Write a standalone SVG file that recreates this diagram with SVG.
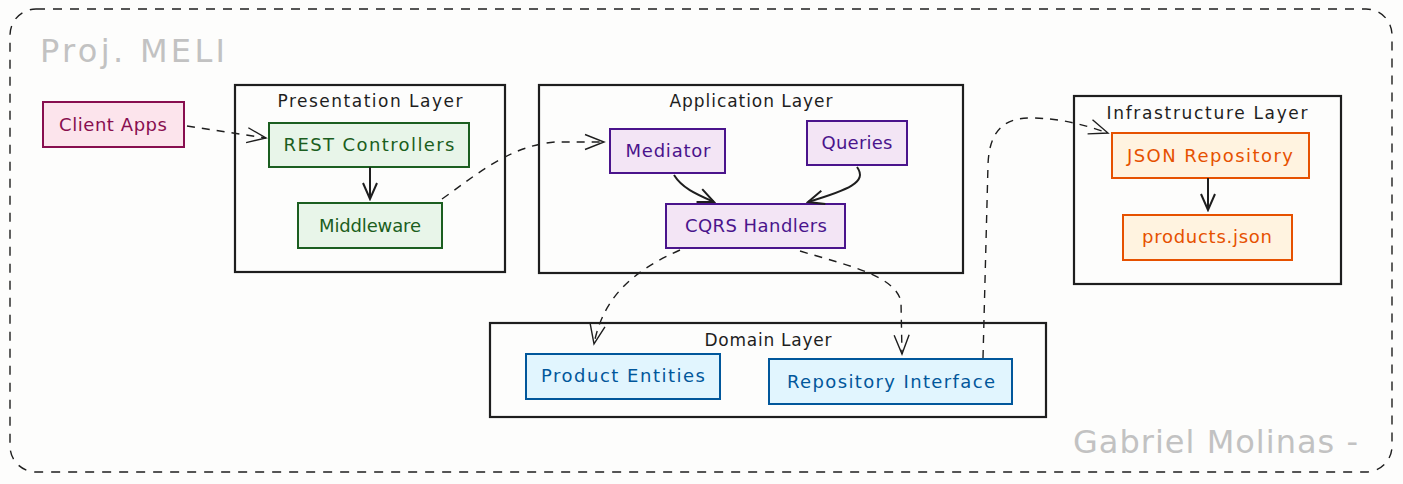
<svg xmlns="http://www.w3.org/2000/svg" width="1403" height="484" viewBox="0 0 1403 484">
<style>
text{font-family:"DejaVu Sans","Liberation Sans",sans-serif;}
.layer{fill:none;stroke:#1e1e1e;stroke-width:2.2;}
.ltitle{font-size:17px;fill:#1e1e1e;text-anchor:middle;}
.lbl{font-size:18px;text-anchor:middle;}
.pink rect{fill:#fce4ec;stroke:#880e4f;stroke-width:2;}
.pink text{fill:#880e4f;}
.green rect{fill:#e8f5e9;stroke:#1b5e20;stroke-width:2;}
.green text{fill:#1b5e20;}
.purple rect{fill:#f3e5f5;stroke:#4a148c;stroke-width:2;}
.purple text{fill:#4a148c;}
.orange rect{fill:#fff3e0;stroke:#e65100;stroke-width:2;}
.orange text{fill:#e65100;}
.blue rect{fill:#e1f5fe;stroke:#01579b;stroke-width:2;}
.blue text{fill:#01579b;}
.dash{fill:none;stroke:#1e1e1e;stroke-width:1.4;stroke-dasharray:8 7;marker-end:url(#open);}
.solid{fill:none;stroke:#1e1e1e;stroke-width:2;marker-end:url(#open2);}
.watermark{font-size:32px;fill:#c2c2c2;}
</style>
<defs>
<marker id="open" markerUnits="userSpaceOnUse" viewBox="-20 -10 22 20" refX="0" refY="0" markerWidth="22" markerHeight="20" orient="auto">
<path d="M-19,-7.5 L0,0 L-19,7.5" fill="none" stroke="#1e1e1e" stroke-width="1.4"/>
</marker>
<marker id="open2" markerUnits="userSpaceOnUse" viewBox="-20 -10 22 20" refX="0" refY="0" markerWidth="22" markerHeight="20" orient="auto">
<path d="M-16,-7 L0,0 L-16,7" fill="none" stroke="#1e1e1e" stroke-width="2"/>
</marker>
</defs>
<rect x="0" y="0" width="1403" height="484" fill="#fdfdfc"/>
<g id="frame">
<rect x="10" y="9" width="1382" height="463" rx="26" fill="none" stroke="#1e1e1e" stroke-width="1.4" stroke-dasharray="9 8"/>
<text class="watermark" x="40" y="62" textLength="185" lengthAdjust="spacing">Proj. MELI</text>
<text class="watermark" x="1073" y="453" textLength="285" lengthAdjust="spacing">Gabriel Molinas -</text>
</g>
<g id="presentation-layer">
<rect class="layer" x="235" y="85" width="270" height="187"/>
<text class="ltitle" x="370" y="107" textLength="185" lengthAdjust="spacing">Presentation Layer</text>
</g>
<g id="application-layer">
<rect class="layer" x="539" y="85" width="424" height="188"/>
<text class="ltitle" x="751" y="107" textLength="163" lengthAdjust="spacing">Application Layer</text>
</g>
<g id="infrastructure-layer">
<rect class="layer" x="1074" y="96" width="267" height="188"/>
<text class="ltitle" x="1207" y="119" textLength="201" lengthAdjust="spacing">Infrastructure Layer</text>
</g>
<g id="domain-layer">
<rect class="layer" x="490" y="323" width="556" height="94"/>
<text class="ltitle" x="768" y="346" textLength="127" lengthAdjust="spacing">Domain Layer</text>
</g>
<g id="client-apps" class="pink">
<rect x="43" y="102" width="141" height="45"/>
<text class="lbl" x="113" y="131" textLength="108" lengthAdjust="spacing">Client Apps</text>
</g>
<g id="rest-controllers" class="green">
<rect x="269" y="123" width="200" height="44"/>
<text class="lbl" x="369" y="151" textLength="171" lengthAdjust="spacing">REST Controllers</text>
</g>
<g id="middleware" class="green">
<rect x="298" y="203" width="144" height="45"/>
<text class="lbl" x="370" y="232" textLength="102" lengthAdjust="spacing">Middleware</text>
</g>
<g id="mediator" class="purple">
<rect x="610" y="129" width="115" height="44"/>
<text class="lbl" x="668" y="157" textLength="85" lengthAdjust="spacing">Mediator</text>
</g>
<g id="queries" class="purple">
<rect x="807" y="121" width="100" height="44"/>
<text class="lbl" x="857" y="149" textLength="71" lengthAdjust="spacing">Queries</text>
</g>
<g id="cqrs-handlers" class="purple">
<rect x="666" y="204" width="179" height="44"/>
<text class="lbl" x="756" y="232" textLength="142" lengthAdjust="spacing">CQRS Handlers</text>
</g>
<g id="json-repository" class="orange">
<rect x="1112" y="133" width="197" height="45"/>
<text class="lbl" x="1210" y="162" textLength="166" lengthAdjust="spacing">JSON Repository</text>
</g>
<g id="products-json" class="orange">
<rect x="1123" y="215" width="169" height="45"/>
<text class="lbl" x="1207" y="243" textLength="130" lengthAdjust="spacing">products.json</text>
</g>
<g id="product-entities" class="blue">
<rect x="526" y="354" width="194" height="45"/>
<text class="lbl" x="623" y="382" textLength="164" lengthAdjust="spacing">Product Entities</text>
</g>
<g id="repository-interface" class="blue">
<rect x="769" y="359" width="243" height="45"/>
<text class="lbl" x="891" y="388" textLength="208" lengthAdjust="spacing">Repository Interface</text>
</g>
<g id="connectors">
<path class="dash" d="M187,126 L266,138"/>
<path class="solid" d="M370,167 L370,199"/>
<path class="dash" d="M442,199 C480,172 510,146 555,142 L604,142"/>
<path class="solid" d="M674,175 C682,188 696,194 714,202"/>
<path class="solid" d="M857,167 C868,182 848,190 808,202"/>
<path class="dash" d="M680,250 C640,268 604,292 594,344"/>
<path class="dash" d="M800,251 C850,266 896,276 901,302 L902,354"/>
<path class="dash" d="M983,358 L988,165 C989,132 1003,118 1030,118 C1060,118 1085,125 1108,133"/>
<path class="solid" d="M1208,178 L1208,210"/>
</g>
</svg>
